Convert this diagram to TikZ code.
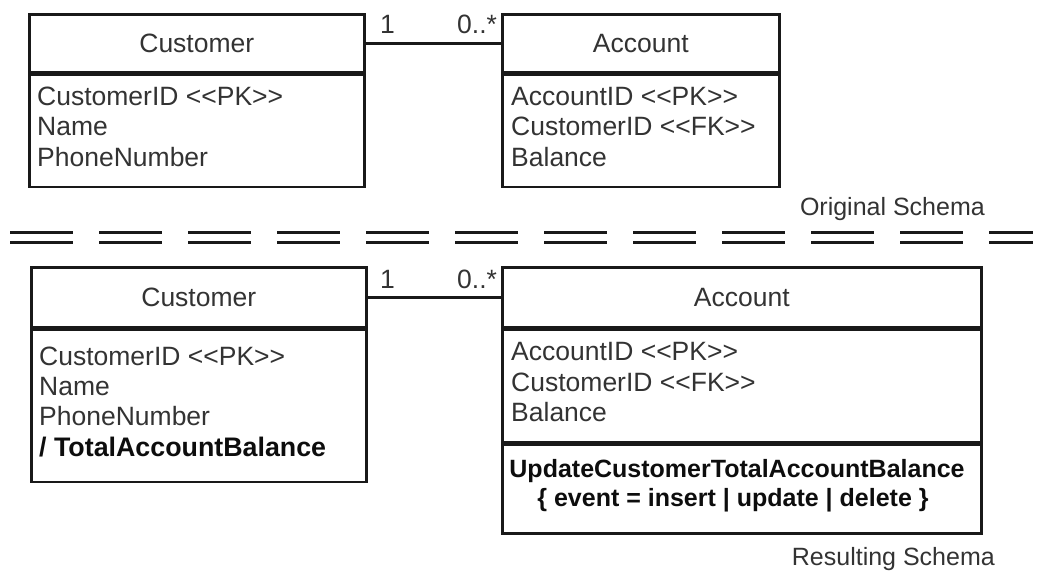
\documentclass[tikz,border=0pt]{standalone}
\usepackage{fontspec}
\setmainfont{Liberation Sans}
\usetikzlibrary{calc}
\newcommand{\mylt}{<\kern0pt<}
\newcommand{\mygt}{>\kern0pt>}
\begin{document}
\begin{tikzpicture}[x=1pt,y=-1pt,
  every node/.style={font=\fontsize{26.5}{30}\selectfont, text=black!80},
  box/.style={draw=black!90, line width=2.6pt, inner sep=0pt, anchor=north west},
  attr/.style={anchor=base west, inner sep=0pt},
  opline/.style={anchor=base, inner sep=0pt, font=\fontsize{25}{30}\selectfont\bfseries, text=black!95},
  lbl/.style={anchor=base west, inner sep=0pt},
  caption/.style={anchor=base east, inner sep=0pt, font=\fontsize{25}{30}\selectfont},
  conn/.style={draw=black!90, line width=2.6pt},
  sep/.style={draw=black!90, line width=3.5pt, dash pattern=on 63pt off 26pt}
]
\useasboundingbox (0,0) rectangle (1038,574);

% ---------- Original schema ----------
\node[box, minimum width=335pt, minimum height=58pt] (c1h) at (28,13) {Customer};
\node[box, minimum width=335pt, minimum height=112pt] (c1b) at (c1h.south west) {};
\node[attr] (c1a1) at (37,105) {CustomerID \mylt PK\mygt};
\node[attr] (c1a2) at (37,135.5) {Name};
\node[attr] (c1a3) at (37,166) {PhoneNumber};

\node[box, minimum width=277pt, minimum height=58pt] (a1h) at (501,13) {Account};
\node[box, minimum width=277pt, minimum height=112pt] (a1b) at (a1h.south west) {};
\node[attr] (a1a1) at (511,105) {AccountID \mylt PK\mygt};
\node[attr] (a1a2) at (511,135.5) {CustomerID \mylt FK\mygt};
\node[attr] (a1a3) at (511,166) {Balance};

\draw[conn] (c1h.east) -- (a1h.west);
\node[lbl] (m11) at (380,33) {1};
\node[lbl] (m12) at (457,33) {0..*};

\node[caption] (t1) at (985,215) {Original Schema};

% ---------- separator ----------
\draw[sep] (10,232.3) -- (1033,232.3);
\draw[sep] (10,242.3) -- (1033,242.3);

% ---------- Resulting schema ----------
\node[box, minimum width=335pt, minimum height=60pt] (c2h) at (30,266) {Customer};
\node[box, minimum width=335pt, minimum height=152pt] (c2b) at (c2h.south west) {};
\node[attr] (c2a1) at (39,365) {CustomerID \mylt PK\mygt};
\node[attr] (c2a2) at (39,395) {Name};
\node[attr] (c2a3) at (39,425) {PhoneNumber};
\node[attr, font=\fontsize{26.8}{30}\selectfont\bfseries, text=black!95] (c2a4) at (39,456.5) {/ TotalAccountBalance};

\node[box, minimum width=479pt, minimum height=60pt] (a2h) at (501,266) {Account};
\node[box, minimum width=479pt, minimum height=112pt] (a2b) at (a2h.south west) {};
\node[box, minimum width=479pt, minimum height=89pt] (a2o) at (a2b.south west) {};
\node[attr] (a2a1) at (511,360) {AccountID \mylt PK\mygt};
\node[attr] (a2a2) at (511,391.5) {CustomerID \mylt FK\mygt};
\node[attr] (a2a3) at (511,421.5) {Balance};
\node[opline] (op1) at (737,477) {UpdateCustomerTotalAccountBalance};
\node[opline] (op2) at (733,506) {\{ event = insert | update | delete \}};

\draw[conn] (c2h.east) -- (a2h.west);
\node[lbl] (m21) at (380,288) {1};
\node[lbl] (m22) at (457,288) {0..*};

\node[caption] (t2) at (995,565) {Resulting Schema};
\end{tikzpicture}
\end{document}
